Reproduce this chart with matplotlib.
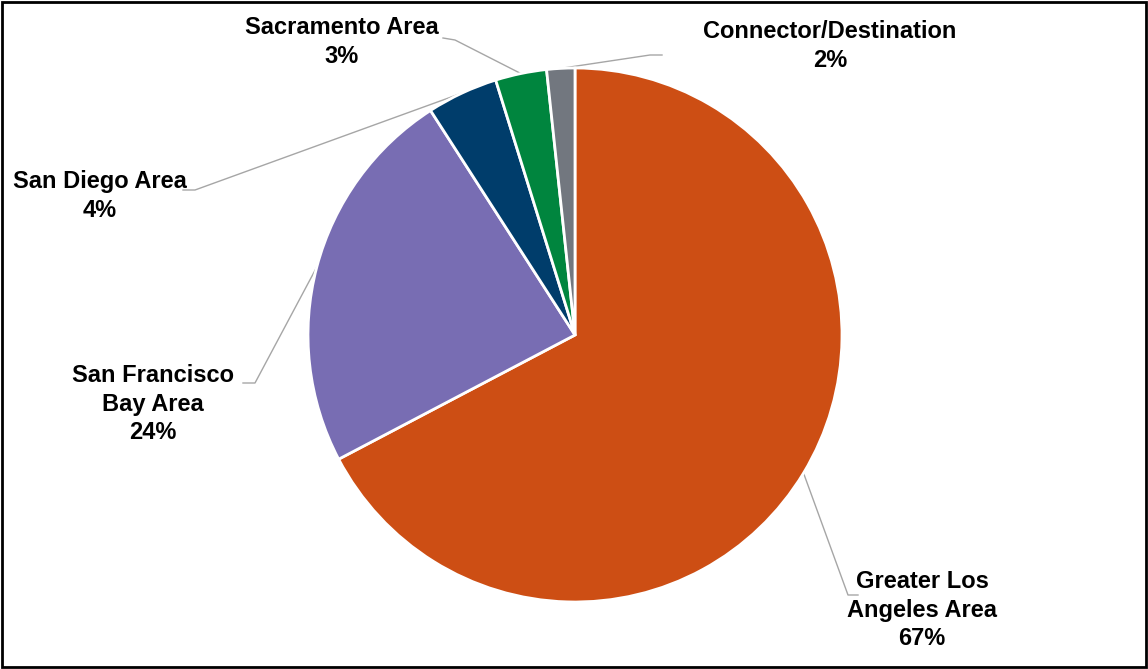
import numpy as np
import matplotlib.pyplot as plt
from matplotlib.patches import Rectangle

plt.rcParams['font.family'] = ['Liberation Sans', 'DejaVu Sans']

regions = ['Greater Los\nAngeles Area', 'San Francisco\nBay Area', 'San Diego Area',
           'Sacramento Area', 'Connector/Destination']
shares = [67.3, 23.6, 4.3, 3.1, 1.7]
pct_labels = ['67%', '24%', '4%', '3%', '2%']
colors = ['#CD4E14', '#786DB3', '#003D6B', '#00853E', '#72777F']

# figure in pixels, pie centre and radius
W, H = 1148, 669
cx, cy, R = 575, 335, 267

fig = plt.figure(figsize=(W / 100, H / 100), dpi=100)
ax = fig.add_axes([0, 0, 1, 1])
wedges, _ = ax.pie(shares, colors=colors, startangle=90, counterclock=False,
                   radius=R, center=(0, 0),
                   wedgeprops=dict(edgecolor='white', linewidth=2))
ax.set_xlim(-cx, W - cx)
ax.set_ylim(-(H - cy), cy)
ax.set_aspect('equal')
ax.axis('off')

# label block centres and leader elbows (pixel offsets from centre, y up)
label_pos = [(922 - cx, cy - 610), (153 - cx, cy - 404), (100 - cx, cy - 196),
             (342 - cx, cy - 42), (830 - cx, cy - 46)]
elbows = [[(848 - cx, cy - 595), (858 - cx, cy - 595)],
          [(255 - cx, cy - 383), (243 - cx, cy - 383)],
          [(195 - cx, cy - 190), (183 - cx, cy - 190)],
          [(455 - cx, cy - 40), (443 - cx, cy - 38)],
          [(650 - cx, cy - 55), (662 - cx, cy - 55)]]

for w, name, pct, pos, elb in zip(wedges, regions, pct_labels, label_pos, elbows):
    mid = np.deg2rad((w.theta1 + w.theta2) / 2)
    ex, ey = R * np.cos(mid), R * np.sin(mid)
    xs = [ex] + [p[0] for p in elb]
    ys = [ey] + [p[1] for p in elb]
    ax.plot(xs, ys, color='#A6A6A6', lw=1, zorder=0)
    ax.text(pos[0], pos[1], name + '\n' + pct, ha='center', va='center',
            fontsize=17, fontweight='bold', linespacing=1.3, color='black')

fig.patches.append(Rectangle((0.002, 0.003), 0.996, 0.994, transform=fig.transFigure,
                             fill=False, edgecolor='black', linewidth=2))

fig.savefig('out.png', dpi=100, facecolor='white')
